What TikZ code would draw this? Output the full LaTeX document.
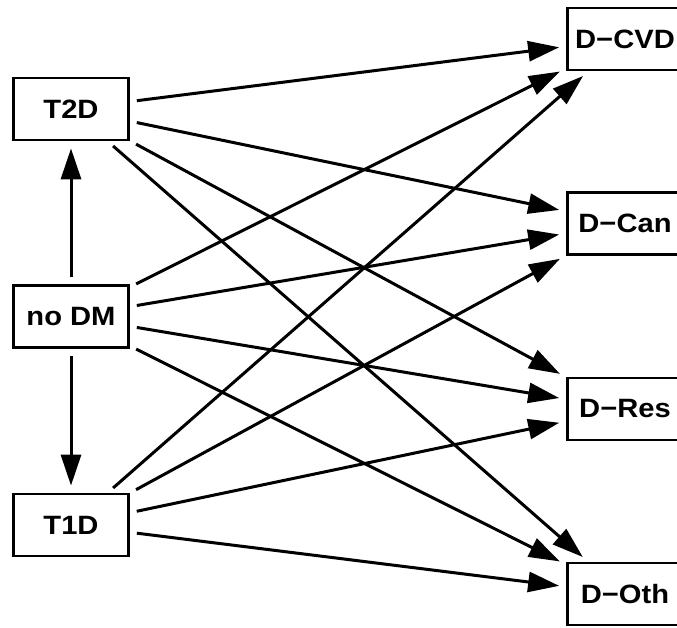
\documentclass[tikz,border=0pt]{standalone}
\usepackage{fontspec}
\setmainfont{Liberation Sans}[FakeStretch=1.1]
\usetikzlibrary{arrows.meta}

\begin{document}
\begin{tikzpicture}[x=1pt,y=-1pt,>={Triangle[length=31pt,width=20pt]},
	state/.style={draw,line width=2.8pt,minimum width=115pt,minimum height=62pt,inner sep=0pt,
			font=\fontsize{26.5}{30}\selectfont\bfseries},
	trans/.style={->,line width=3pt,shorten <=7pt,shorten >=7pt}
	]

	\useasboundingbox (0,0) rectangle (677,628);
	\clip (0,0) rectangle (677,628);

	\node[state] (t2d) at (71,109) {T2D};
	\node[state] (nodm) at (71,316.5) {no DM};
	\node[state] (t1d) at (71,525) {T1D};

	\node[state] (dcvd) at (625,39) {D−CVD};
	\node[state] (dcan) at (625,223.5) {D−Can};
	\node[state] (dres) at (625,409) {D−Res};
	\node[state] (doth) at (625,594) {D−Oth};

	\draw[trans] (nodm) -- (t2d);
	\draw[trans] (nodm) -- (t1d);

	\foreach \s in {t2d,nodm,t1d} {
			\foreach \t in {dcvd,dcan,dres,doth} {
					\draw[trans] (\s) -- (\t);}
		}

\end{tikzpicture}
\end{document}
